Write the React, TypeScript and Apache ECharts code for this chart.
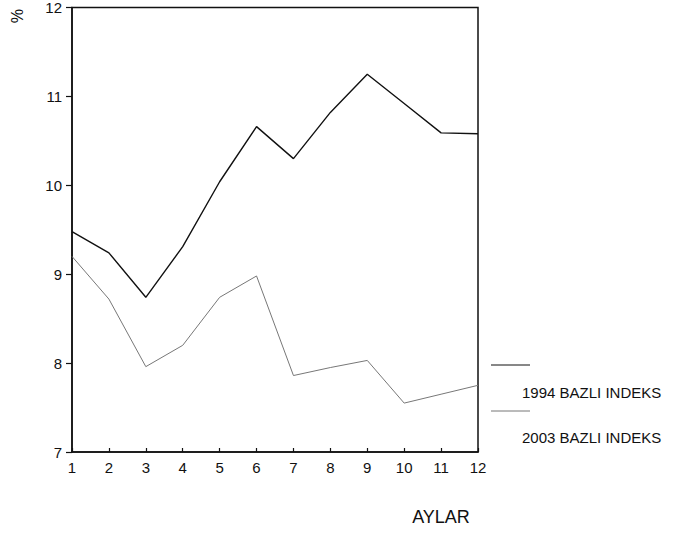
import React, { useEffect, useRef } from "react";
import * as echarts from "echarts";

const months = ["1", "2", "3", "4", "5", "6", "7", "8", "9", "10", "11", "12"];
const series1994 = [9.48, 9.24, 8.74, 9.31, 10.04, 10.66, 10.3, 10.82, 11.25, 10.92, 10.59, 10.58];
const series2003 = [9.2, 8.72, 7.96, 8.2, 8.74, 8.98, 7.86, 7.95, 8.03, 7.55, 7.65, 7.75];
const legendNames = ["1994 BAZLI INDEKS", "2003 BAZLI INDEKS"];
const yTicks = { min: 7, max: 12, interval: 1 };

export default function App() {
  const ref = useRef<HTMLDivElement>(null);
  useEffect(() => {
    document.body.style.margin = "0";
    const chart = echarts.init(ref.current!, null, { renderer: "svg" });
    const font = "'Liberation Sans', Arial, sans-serif";
    chart.setOption({
      animation: false,
      backgroundColor: "#ffffff",
      grid: { left: 72, right: 198, top: 6, bottom: 81, show: true, borderColor: "#111", borderWidth: 1.5, backgroundColor: "transparent" },
      xAxis: {
        type: "category",
        data: months,
        boundaryGap: false,
        axisLine: { lineStyle: { color: "#111", width: 1.5 } },
        axisTick: { show: true, alignWithLabel: true, length: 4, inside: true, lineStyle: { color: "#111", width: 1.2 } },
        axisLabel: { color: "#111", fontFamily: font, fontSize: 15, margin: 8 },
        splitLine: { show: false },
      },
      yAxis: {
        type: "value",
        min: yTicks.min,
        max: yTicks.max,
        interval: yTicks.interval,
        axisLine: { show: true, lineStyle: { color: "#111", width: 1.5 } },
        axisTick: { show: true, length: 6, lineStyle: { color: "#111", width: 1.2 } },
        axisLabel: { color: "#111", fontFamily: font, fontSize: 15, margin: 10 },
        splitLine: { show: false },
      },
      series: [
        {
          name: legendNames[0],
          type: "line",
          data: series1994,
          symbol: "none",
          lineStyle: { color: "#111", width: 1.4 },
        },
        {
          name: legendNames[1],
          type: "line",
          data: series2003,
          symbol: "none",
          lineStyle: { color: "#777", width: 1 },
        },
      ],
      graphic: [
        { type: "text", x: 24, y: 9, rotation: -Math.PI / 2, style: { text: "%", fontFamily: font, fontSize: 16, fill: "#111" } },
        { type: "line", shape: { x1: 491, y1: 365, x2: 530, y2: 365 }, style: { stroke: "#111", lineWidth: 1 } },
        { type: "text", x: 522, y: 392, style: { text: legendNames[0], fontFamily: font, fontSize: 15, fill: "#111", verticalAlign: "middle" } },
        { type: "line", shape: { x1: 491, y1: 411, x2: 530, y2: 411 }, style: { stroke: "#777", lineWidth: 1 } },
        { type: "text", x: 522, y: 437, style: { text: legendNames[1], fontFamily: font, fontSize: 15, fill: "#111", verticalAlign: "middle" } },
        { type: "text", x: 441, y: 517, style: { text: "AYLAR", fontFamily: font, fontSize: 18, fill: "#111", align: "center", verticalAlign: "middle" } },
      ],
    });
    return () => chart.dispose();
  }, []);
  return <div ref={ref} style={{ position: "absolute", left: 0, top: 0, width: 676, height: 533 }} />;
}
